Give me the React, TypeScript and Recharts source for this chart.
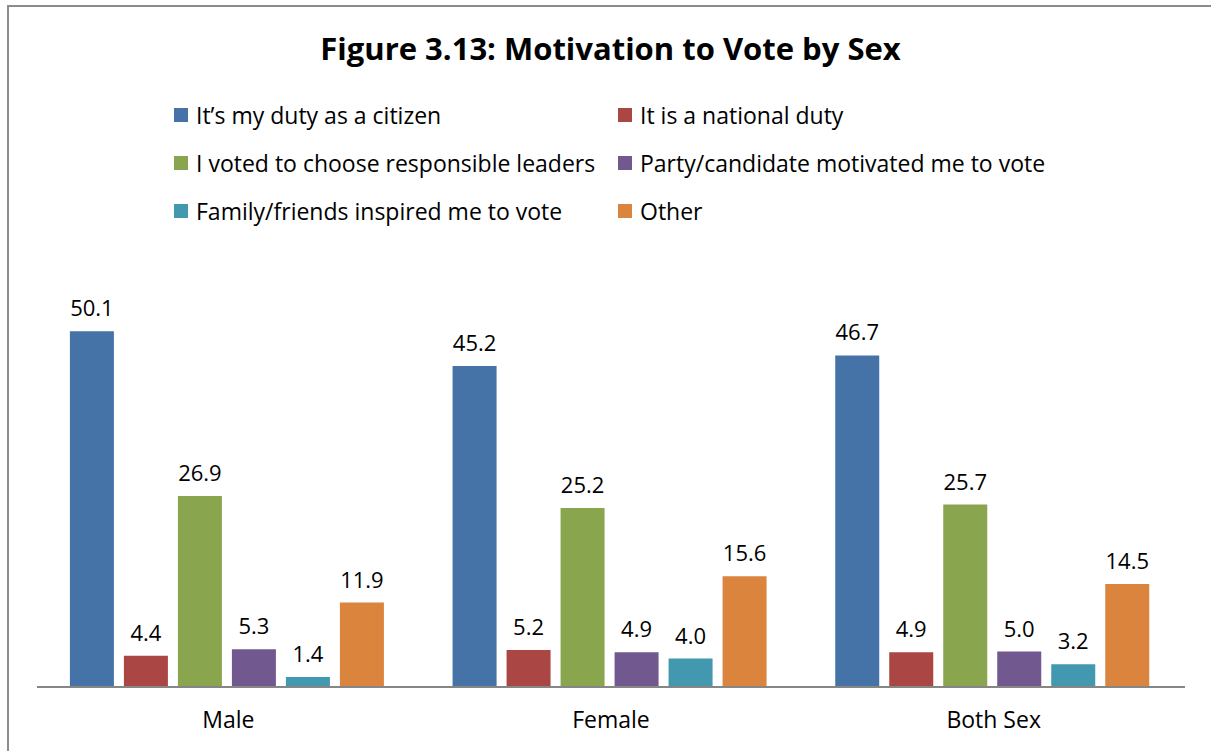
import { BarChart, Bar, XAxis, YAxis, LabelList } from 'recharts';

const groups = ['Male', 'Female', 'Both Sex'];

const seriesNames = [
    'It\u2019s my duty as a citizen',
    'It is a national duty',
    'I voted to choose responsible leaders',
    'Party/candidate motivated me to vote',
    'Family/friends inspired me to vote',
    'Other',
];

const seriesColors = ['#4572a7', '#aa4643', '#89a54e', '#71588f', '#4198af', '#db843d'];

const dutyCitizen = [50.1, 45.2, 46.7];
const nationalDuty = [4.4, 5.2, 4.9];
const responsibleLeaders = [26.9, 25.2, 25.7];
const partyCandidate = [5.3, 4.9, 5.0];
const familyFriends = [1.4, 4.0, 3.2];
const other = [11.9, 15.6, 14.5];

const seriesValues = [dutyCitizen, nationalDuty, responsibleLeaders, partyCandidate, familyFriends, other];

const rows = groups.map((g, i) => {
    const row: Record<string, string | number> = { group: g };
    seriesNames.forEach((name, s) => {
        row['s' + s] = seriesValues[s][i];
    });
    return row;
});

const font = '"Open Sans", Lato, sans-serif';

function ChartLegend() {
    // two columns, three rows, like the original Excel legend
    return (
        <div style={{ position: 'absolute', left: 0, top: 99, width: 1211, height: 150, fontFamily: font, fontSize: 23, color: '#000' }}>
            {seriesNames.map((name, i) => {
                const col = i % 2;
                const row = Math.floor(i / 2);
                return (
                    <div
                        key={name}
                        style={{
                            position: 'absolute',
                            left: col === 0 ? 174 : 618,
                            top: row * 48,
                            height: 32,
                            display: 'flex',
                            alignItems: 'center',
                            whiteSpace: 'nowrap',
                        }}
                    >
                        <span style={{ display: 'inline-block', width: 14, height: 14, background: seriesColors[i], marginRight: 8 }} />
                        <span>{name}</span>
                    </div>
                );
            })}
        </div>
    );
}

export default function App() {
    return (
        <div style={{ position: 'fixed', left: 0, top: 0, width: 1211, height: 751, background: '#fff', overflow: 'hidden' }}>
            <div
                style={{
                    position: 'absolute',
                    left: 7,
                    top: 5,
                    width: 1202,
                    height: 760,
                    borderLeft: '2px solid #8c8c8c',
                    borderTop: '2px solid #8c8c8c',
                    borderRight: '1px solid #e6e6e6',
                }}
            />
            <div
                style={{
                    position: 'absolute',
                    left: 0,
                    top: 27,
                    width: 1221,
                    textAlign: 'center',
                    fontFamily: font,
                    fontWeight: 700,
                    fontSize: 31,
                    color: '#000',
                }}
            >
                Figure 3.13: Motivation to Vote by Sex
            </div>
            <ChartLegend />
            <div style={{ position: 'absolute', left: 0, top: 0 }}>
                <BarChart
                    width={1211}
                    height={751}
                    data={rows}
                    margin={{ top: 261, right: 26, bottom: 34, left: 37 }}
                    barCategoryGap="8.6%"
                    barGap={10}
                >
                    <XAxis
                        dataKey="group"
                        height={30}
                        tickLine={false}
                        tickMargin={19}
                        axisLine={{ stroke: '#868686', strokeWidth: 2 }}
                        tick={{ fill: '#000', fontSize: 23, fontFamily: font }}
                    />
                    <YAxis hide domain={[0, 60]} />
                    {seriesNames.map((name, s) => (
                        <Bar key={name} dataKey={'s' + s} name={name} fill={seriesColors[s]} isAnimationActive={false}>
                            <LabelList
                                dataKey={'s' + s}
                                position="top"
                                offset={15}
                                formatter={(v: number) => v.toFixed(1)}
                                style={{ fill: '#000', fontSize: 22, fontFamily: font }}
                            />
                        </Bar>
                    ))}
                </BarChart>
            </div>
        </div>
    );
}
